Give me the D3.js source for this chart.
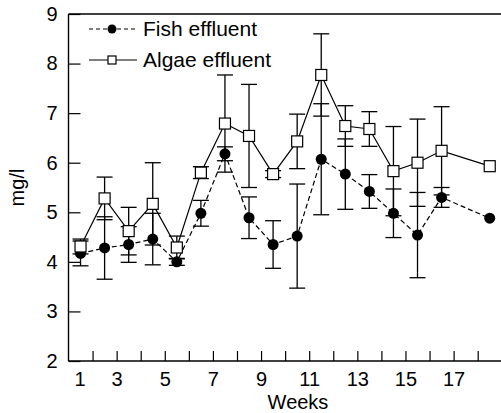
<!DOCTYPE html>
<html><head><meta charset="utf-8">
<script src="https://cdn.jsdelivr.net/npm/d3@7"></script>
<style>body{margin:0;background:#fff}svg{display:block}text{font-family:"Liberation Sans",Arial,sans-serif;fill:#000}</style>
</head><body><svg id="c" width="501" height="413"></svg>
<script>
const weeks = [1,2,3,4,5,6,7,8,9,10,11,12,13,14,15,16,18];
const fishMean = [4.17,4.28,4.35,4.46,4.00,4.98,6.18,4.89,4.35,4.52,6.07,5.77,5.42,4.98,4.54,5.30,4.88];
const fishErr  = [0.25,0.63,0.36,0.52,0.07,0.26,0.14,0.42,0.48,1.05,1.12,0.71,0.34,0.49,0.86,0.20,null];
const algaeMean = [4.31,5.28,4.62,5.17,4.29,5.80,6.79,6.54,5.77,6.43,7.77,6.74,6.68,5.83,6.00,6.24,5.93];
const algaeErr  = [0.15,0.43,0.48,0.83,0.23,0.12,0.98,1.04,0.07,0.55,0.83,0.41,0.35,0.90,0.88,0.89,null];
const yTicks = [2,3,4,5,6,7,8,9];
const xTicks = d3.range(1,19);
const xLabels = [1,3,5,7,9,11,13,15,17];
const seriesNames = ["Fish effluent","Algae effluent"];

const svg = d3.select("#c");
const x = d3.scaleLinear().domain([1,19]).range([68.5, 68.5+18*24.07]);
const y = d3.scaleLinear().domain([2,9]).range([361,14]);
const px = w => x(w+0.5);
const FS = 20, LFS = 21;

// axes
const gy = svg.append("g").attr("transform","translate(68.5,0)")
  .call(d3.axisLeft(y).tickValues(yTicks).tickSize(-12).tickPadding(11).tickFormat(d3.format("d")));
gy.selectAll("text").style("font-size",FS+"px");
const gx = svg.append("g").attr("transform","translate(0,361)")
  .call(d3.axisBottom(x).tickValues(xTicks).tickSize(-10).tickPadding(9)
        .tickFormat(d => xLabels.includes(d) ? d : ""));
gx.selectAll("text").style("font-size",FS+"px").attr("dy","0.8em");
gx.selectAll(".tick").filter(d => d===1).select("text").attr("x",11);
gx.selectAll(".tick").filter(d => d===1).select("line").remove();
svg.selectAll(".domain").attr("stroke","#000").attr("stroke-width",1.4);
svg.selectAll(".tick line").attr("stroke","#000").attr("stroke-width",1.2);
gy.select(".domain").attr("d","M0,14V361");
gx.select(".domain").attr("d","M68.5,0H501");
svg.append("line").attr("x1",68.5).attr("x2",501).attr("y1",14).attr("y2",14)
  .attr("stroke","#000").attr("stroke-width",1.4);

svg.append("text").attr("transform","translate(24,187.5) rotate(-90)")
  .attr("text-anchor","middle").style("font-size",FS+"px").text("mg/l");
svg.append("text").attr("x",298).attr("y",409).attr("text-anchor","middle")
  .style("font-size",FS+"px").text("Weeks");

// error bars
function errBars(mean, err){
  const g = svg.append("g").attr("stroke","#000").attr("stroke-width",1.3).attr("fill","none");
  weeks.forEach((w,i)=>{
    if(err[i]==null) return;
    const cx = px(w), t = y(mean[i]+err[i]), b = y(mean[i]-err[i]);
    g.append("line").attr("x1",cx).attr("x2",cx).attr("y1",t).attr("y2",b);
    g.append("line").attr("x1",cx-8).attr("x2",cx+8).attr("y1",t).attr("y2",t);
    g.append("line").attr("x1",cx-8).attr("x2",cx+8).attr("y1",b).attr("y2",b);
  });
}
errBars(fishMean, fishErr);
errBars(algaeMean, algaeErr);

const line = d3.line().x(d=>px(d[0])).y(d=>y(d[1]));
svg.append("path").datum(weeks.map((w,i)=>[w,fishMean[i]])).attr("d",line)
  .attr("fill","none").attr("stroke","#000").attr("stroke-width",1.2).attr("stroke-dasharray","5,3");
svg.append("path").datum(weeks.map((w,i)=>[w,algaeMean[i]])).attr("d",line)
  .attr("fill","none").attr("stroke","#000").attr("stroke-width",1.2);

svg.append("g").selectAll("circle").data(weeks).join("circle")
  .attr("cx",w=>px(w)).attr("cy",(w,i)=>y(fishMean[i])).attr("r",5.5).attr("fill","#000");
svg.append("g").selectAll("rect").data(weeks).join("rect")
  .attr("x",w=>px(w)-5.5).attr("y",(w,i)=>y(algaeMean[i])-5.5).attr("width",11).attr("height",11)
  .attr("fill","#fff").attr("stroke","#000").attr("stroke-width",1.2);

// legend
const lg = svg.append("g");
lg.append("line").attr("x1",89).attr("x2",137).attr("y1",29).attr("y2",29)
  .attr("stroke","#000").attr("stroke-width",1.2).attr("stroke-dasharray","4,3");
lg.append("circle").attr("cx",112).attr("cy",29).attr("r",4.5).attr("fill","#000");
lg.append("text").attr("x",143).attr("y",29).attr("dy","0.35em").style("font-size",LFS+"px").text(seriesNames[0]);
lg.append("line").attr("x1",89).attr("x2",137).attr("y1",60).attr("y2",60)
  .attr("stroke","#000").attr("stroke-width",1.2);
lg.append("rect").attr("x",108).attr("y",56).attr("width",8).attr("height",8)
  .attr("fill","#fff").attr("stroke","#000").attr("stroke-width",1.2);
lg.append("text").attr("x",143).attr("y",60).attr("dy","0.35em").style("font-size",LFS+"px").text(seriesNames[1]);
</script></body></html>
